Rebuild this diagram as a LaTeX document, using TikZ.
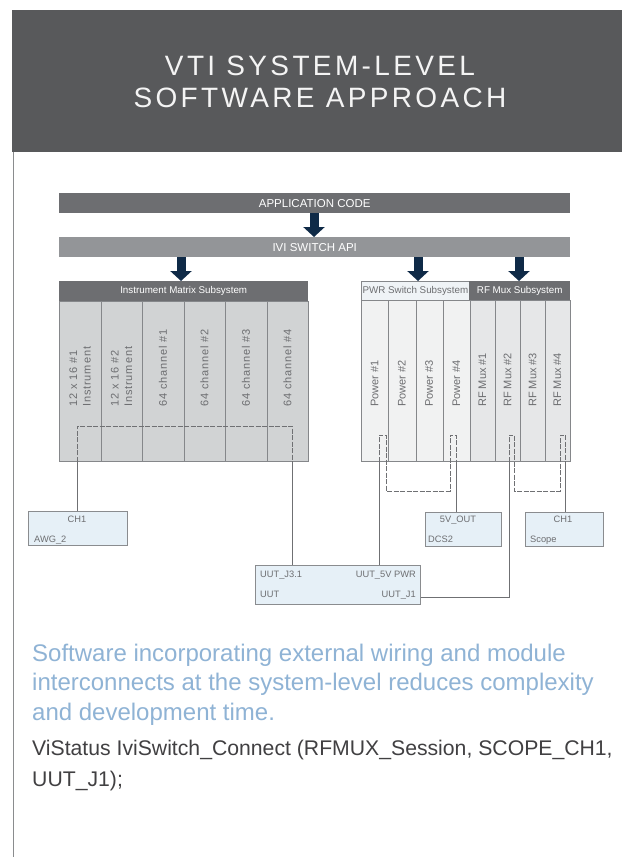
\documentclass[tikz,border=0pt]{standalone}
\usepackage{fontspec}
\setmainfont{Liberation Sans}
\newfontfamily\titlefont[LetterSpace=12]{Liberation Sans}
\newfontfamily\spacedfont[LetterSpace=8]{Liberation Sans}
\usetikzlibrary{arrows.meta}
\definecolor{hdr}{HTML}{58595B}
\definecolor{appc}{HTML}{6D6E71}
\definecolor{ivic}{HTML}{939598}
\definecolor{icolfill}{HTML}{D1D3D4}
\definecolor{pcolfill}{HTML}{F1F2F2}
\definecolor{rcolfill}{HTML}{E6E7E8}
\definecolor{pwrhdr}{HTML}{EFF3F6}
\definecolor{colborder}{HTML}{85878A}
\definecolor{coltxt}{HTML}{6D6E71}
\definecolor{boxfill}{HTML}{E6F0F7}
\definecolor{boxborder}{HTML}{8A8C8F}
\definecolor{navy}{HTML}{0F2A47}
\definecolor{wirec}{HTML}{6F7073}
\definecolor{leadblue}{HTML}{8FB3D5}
\definecolor{bodyc}{HTML}{414042}
\definecolor{rulec}{HTML}{8A8C8E}
\definecolor{titlec}{HTML}{F4F4F4}
\begin{document}
\begin{tikzpicture}[x=1pt,y=-1pt,
  bar/.style={rectangle,inner sep=0pt,anchor=north west,text=white,font=\fontsize{11.5}{12}\selectfont},
  subhdr/.style={rectangle,inner sep=0pt,anchor=north west,font=\fontsize{9.8}{10}\selectfont},
  icol/.style={rectangle,inner sep=0pt,anchor=north west,draw=colborder,fill=icolfill,line width=0.8pt,minimum width=41.5pt,minimum height=160pt},
  pcol/.style={rectangle,inner sep=0pt,anchor=north west,draw=colborder,fill=pcolfill,line width=0.8pt,minimum width=27.25pt,minimum height=161pt},
  rcol/.style={rectangle,inner sep=0pt,anchor=north west,draw=colborder,fill=rcolfill,line width=0.8pt,minimum width=25pt,minimum height=161pt},
  coltext/.style={inner sep=0pt,anchor=west,rotate=90,text=coltxt,font=\fontsize{11}{13.5}\selectfont,align=left},
  devbox/.style={rectangle,inner sep=0pt,anchor=north west,draw=boxborder,fill=boxfill,line width=0.8pt},
  boxtext/.style={inner sep=0pt,text=coltxt,font=\fontsize{9.3}{10}\selectfont},
  apiarrow/.style={draw=navy,line width=9pt,-{Triangle[width=21pt,length=10pt]}},
  wire/.style={draw=wirec,line width=0.9pt},
  dwire/.style={wire,dash pattern=on 5pt off 1.5pt},
  titletext/.style={inner sep=0pt,anchor=base,text=titlec,font=\titlefont\fontsize{28}{30}\selectfont},
  leadtext/.style={inner sep=0pt,anchor=base west,text=leadblue,font=\fontsize{24}{28}\selectfont},
  bodytext/.style={inner sep=0pt,anchor=base west,text=bodyc,font=\fontsize{21.2}{26}\selectfont},
]
\useasboundingbox (0,0) rectangle (627,857);
\fill[white] (0,0) rectangle (627,857);

% header
\node[rectangle,inner sep=0pt,anchor=north west,fill=hdr,minimum width=610pt,minimum height=142pt] (header) at (12,10) {};
\node[titletext] (title1) at (320,75) {VTI SYSTEM-LEVEL};
\node[titletext] (title2) at (320,107) {SOFTWARE APPROACH};
\coordinate (rulebot) at (13,857);
\draw[rulec,line width=0.8pt] (header.south west -| rulebot) -- (rulebot);

% bars
\node[bar,fill=appc,minimum width=511pt,minimum height=20pt] (app) at (59,193) {APPLICATION CODE};
\node[bar,fill=ivic,minimum width=511pt,minimum height=20pt] (ivi) at (59,237) {IVI SWITCH API};

% subsystem headers
\node[subhdr,fill=appc,text=white,minimum width=249pt,minimum height=20pt] (imx) at (59,281) {Instrument Matrix Subsystem};
\node[subhdr,fill=pwrhdr,draw=colborder,line width=0.8pt,text=coltxt,minimum width=108pt,minimum height=19pt] (pwr) at (361,281) {PWR Switch Subsystem};
\node[subhdr,fill=appc,text=white,minimum width=101pt,minimum height=19pt] (rfm) at (469,281) {RF Mux Subsystem};

% arrows
\coordinate (a1) at (314,0);
\coordinate (a2) at (181,0);
\coordinate (a3) at (418,0);
\coordinate (a4) at (519,0);
\draw[apiarrow] (app.south -| a1) -- (ivi.north -| a1);
\draw[apiarrow] (ivi.south -| a2) -- (imx.north -| a2);
\draw[apiarrow] (ivi.south -| a3) -- (pwr.north -| a3);
\draw[apiarrow] (ivi.south -| a4) -- (rfm.north -| a4);

% instrument columns
\node[icol] (ic1) at (59,301) {};
\node[icol] (ic2) at (100.5,301) {};
\node[icol] (ic3) at (142,301) {};
\node[icol] (ic4) at (183.5,301) {};
\node[icol] (ic5) at (225,301) {};
\node[icol] (ic6) at (266.5,301) {};
\node[coltext,font=\spacedfont\fontsize{11}{13.5}\selectfont] (it1) at (80,407) {12 x 16 \#1\\Instrument};
\node[coltext,font=\spacedfont\fontsize{11}{13.5}\selectfont] (it2) at (121.5,407) {12 x 16 \#2\\Instrument};
\node[coltext,font=\spacedfont\fontsize{11}{13.5}\selectfont] (it3) at (163,407) {64 channel \#1};
\node[coltext,font=\spacedfont\fontsize{11}{13.5}\selectfont] (it4) at (204.5,407) {64 channel \#2};
\node[coltext,font=\spacedfont\fontsize{11}{13.5}\selectfont] (it5) at (246,407) {64 channel \#3};
\node[coltext,font=\spacedfont\fontsize{11}{13.5}\selectfont] (it6) at (287.5,407) {64 channel \#4};

% power columns
\node[pcol] (pc1) at (361,300) {};
\node[pcol] (pc2) at (388.25,300) {};
\node[pcol] (pc3) at (415.5,300) {};
\node[pcol] (pc4) at (442.75,300) {};
\node[coltext] (pt1) at (374.6,407) {Power \#1};
\node[coltext] (pt2) at (401.9,407) {Power \#2};
\node[coltext] (pt3) at (429.1,407) {Power \#3};
\node[coltext] (pt4) at (456.4,407) {Power \#4};

% rf columns
\node[rcol] (rc1) at (470,300) {};
\node[rcol] (rc2) at (495,300) {};
\node[rcol] (rc3) at (520,300) {};
\node[rcol] (rc4) at (545,300) {};
\node[coltext] (rt1) at (482.5,407) {RF Mux \#1};
\node[coltext] (rt2) at (507.5,407) {RF Mux \#2};
\node[coltext] (rt3) at (532.5,407) {RF Mux \#3};
\node[coltext] (rt4) at (557.5,407) {RF Mux \#4};

% device boxes
\node[devbox,minimum width=99pt,minimum height=34pt] (awg) at (28,511) {};
\node[devbox,minimum width=76pt,minimum height=34pt] (dcs) at (425,512) {};
\node[devbox,minimum width=78pt,minimum height=34pt] (scope) at (525,512) {};
\node[devbox,minimum width=165pt,minimum height=39pt] (uut) at (255,565) {};

\node[boxtext,anchor=base] (awgch) at (77,522.5) {CH1};
\node[boxtext,anchor=base west] (awgname) at (34,542.5) {AWG\_2};
\node[boxtext,anchor=base] (dcsout) at (458,522.5) {5V\_OUT};
\node[boxtext,anchor=base west] (dcsname) at (428,542.5) {DCS2};
\node[boxtext,anchor=base] (scopech) at (563,522.5) {CH1};
\node[boxtext,anchor=base west] (scopename) at (530,542.5) {Scope};
\node[boxtext,anchor=base west] (uutj3) at (260,577) {UUT\_J3.1};
\node[boxtext,anchor=base east] (uutpwr) at (416,577) {UUT\_5V PWR};
\node[boxtext,anchor=base west] (uutname) at (260,597) {UUT};
\node[boxtext,anchor=base east] (uutj1) at (416,597) {UUT\_J1};

% wiring: instrument matrix
\coordinate (iA) at (77,426);
\coordinate (iB) at (292,426);
\draw[wire] (awg.north -| iA) -- (iA |- ic1.south);
\draw[dwire] (iA |- ic1.south) -- (iA) -- (iB) -- (iB |- ic1.south);
\draw[wire] (iB |- ic1.south) -- (uut.north -| iB);

% wiring: power switch
\coordinate (pA) at (379,435);
\coordinate (pB) at (386,435);
\coordinate (pC) at (386,491);
\coordinate (pD) at (450,491);
\coordinate (pE) at (450,435);
\coordinate (pF) at (456,435);
\draw[wire] (uut.north -| pA) -- (pA |- pc1.south);
\draw[dwire] (pA |- pc1.south) -- (pA) -- (pB) -- (pC) -- (pD) -- (pE) -- (pF) -- (pF |- pc1.south);
\draw[wire] (pF |- pc1.south) -- (dcs.north -| pF);

% wiring: rf mux
\coordinate (rA) at (509,435);
\coordinate (rB) at (514,435);
\coordinate (rC) at (514,491);
\coordinate (rD) at (560,491);
\coordinate (rE) at (560,435);
\coordinate (rF) at (565,435);
\coordinate (rJ) at (509,597);
\draw[wire] (uut.east |- rJ) -- (rJ) -- (rA |- rc1.south);
\draw[dwire] (rA |- rc1.south) -- (rA) -- (rB) -- (rC) -- (rD) -- (rE) -- (rF) -- (rF |- rc1.south);
\draw[wire] (rF |- rc1.south) -- (scope.north -| rF);

% text below
\node[leadtext] (lead1) at (32,661) {Software incorporating external wiring and module};
\node[leadtext] (lead2) at (32,690) {interconnects at the system-level reduces complexity};
\node[leadtext] (lead3) at (32,720) {and development time.};
\node[bodytext] (code1) at (32,755) {ViStatus IviSwitch\_Connect (RFMUX\_Session, SCOPE\_CH1,};
\node[bodytext] (code2) at (32,786) {UUT\_J1);};
\end{tikzpicture}
\end{document}
